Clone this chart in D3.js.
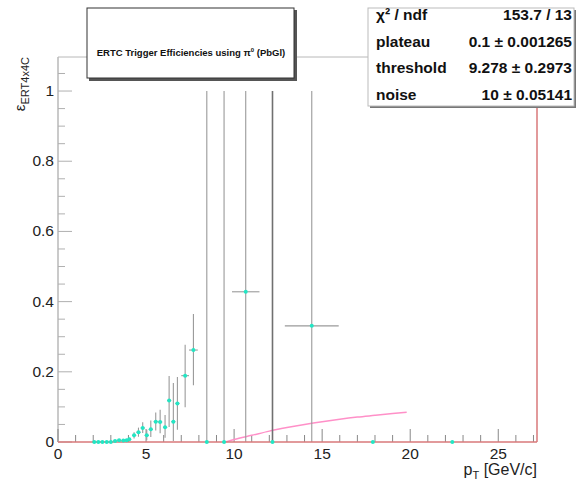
<!DOCTYPE html>
<html><head><meta charset="utf-8">
<script src="https://cdn.jsdelivr.net/npm/d3@7"></script>
<style>body{margin:0;background:#fff}svg{display:block}text{font-family:"Liberation Sans",Arial,sans-serif}</style>
</head><body><svg id="c" width="582" height="485"></svg>
<script>
// data points (pT, efficiency, x-half-width, y-error low, y-error high)
const ptVals   = [2.06,2.29,2.52,2.77,3.0,3.24,3.47,3.71,3.9,4.05,4.32,4.57,4.81,5.04,5.27,5.55,5.8,6.08,6.31,6.55,6.78,7.22,7.69,8.45,9.43,10.66,12.18,14.41,17.88,22.39];
const effVals  = [0,0,0,0,0,0.003,0.005,0.004,0.005,0.008,0.019,0.028,0.04,0.019,0.036,0.058,0.057,0.042,0.118,0.058,0.110,0.189,0.262,0,0,0.428,0,0.331,0,0];
const xErrVals = [0.12,0.12,0.12,0.12,0.12,0.12,0.12,0.12,0.1,0.1,0.12,0.12,0.12,0.12,0.12,0.12,0.12,0.12,0.12,0.12,0.12,0.22,0.25,0,0,0.78,0,1.53,0,0];
const yErrLo   = [0,0,0,0,0,0.002,0.003,0.003,0.003,0.004,0.009,0.013,0.014,0.014,0.022,0.025,0.032,0.03,0.075,0.055,0.075,0.09,0.1,0,0,0.428,0,0.331,0,0];
const yErrHi   = [0,0,0,0,0,0.002,0.003,0.003,0.003,0.004,0.009,0.013,0.016,0.016,0.025,0.026,0.035,0.035,0.07,0.11,0.075,0.088,0.103,1,1,0.572,1,0.669,0,0];
// fit curve samples
const fitX = [9.5,10,11,12,13,14,15,16,17,18,19,19.8];
const fitY = [0,0.007,0.019,0.031,0.041,0.050,0.058,0.065,0.071,0.076,0.081,0.085];
const xTicks = [0,5,10,15,20,25];
const yTicks = [0,0.2,0.4,0.6,0.8,1];
const statsRows = [["χ² / ndf","153.7 / 13"],["plateau","0.1 ± 0.001265"],["threshold","9.278 ± 0.2973"],["noise","10 ± 0.05141"]];

const svg = d3.select("#c");
const L=58,R=537,T=57,B=442;
const x = d3.scaleLinear().domain([0,27.2]).range([L,R]);
const y = d3.scaleLinear().domain([0,1.097]).range([B,T]);
const axisGrey="#b8b8b8", red="#d9787a";

// frame lines
svg.append("line").attr("x1",L).attr("x2",R).attr("y1",T).attr("y2",T).attr("stroke",axisGrey);
svg.append("line").attr("x1",L).attr("x2",L).attr("y1",T).attr("y2",B).attr("stroke",axisGrey).attr("stroke-width",1.5);

// x ticks (inward)
const xMinor = d3.range(0,27.01,1);
svg.append("g").selectAll("line").data(xMinor).join("line")
  .attr("x1",d=>x(d)).attr("x2",d=>x(d)).attr("y1",B)
  .attr("y2",d=>B-(d%5===0?13:7)).attr("stroke","#888");
// y ticks
const yMinor = d3.range(0,1.0901,0.05);
svg.append("g").selectAll("line").data(yMinor).join("line")
  .attr("x1",L).attr("x2",d=>L+(Math.abs(Math.round(d*5)-d*5)<1e-6?14:7))
  .attr("y1",d=>y(d)).attr("y2",d=>y(d)).attr("stroke","#b0b0b0");

// tick labels
svg.append("g").selectAll("text").data(xTicks).join("text")
  .attr("x",d=>x(d)).attr("y",459).attr("text-anchor","middle")
  .attr("font-size",15.5).attr("fill","#222").text(d=>d);
svg.append("g").selectAll("text").data(yTicks).join("text")
  .attr("x",54).attr("y",d=>y(d)+5).attr("text-anchor","end")
  .attr("font-size",15.5).attr("fill","#222").text(d=>d);

// axis titles
const xt = svg.append("text").attr("x",R).attr("y",475).attr("text-anchor","end").attr("font-size",16).attr("fill","#222");
xt.append("tspan").text("p");
xt.append("tspan").attr("font-size",11).attr("dy",4).text("T");
xt.append("tspan").attr("dy",-4).text(" [GeV/c]");
const yt = svg.append("text").attr("transform","translate(25,57) rotate(-90)").attr("text-anchor","end").attr("font-size",15).attr("fill","#222");
yt.append("tspan").text("ε");
yt.append("tspan").attr("font-size",11).attr("dy",4).text("ERT4x4C");

// fit curve
svg.append("path").datum(fitX.map((v,i)=>[v,fitY[i]]))
  .attr("d",d3.line().x(d=>x(d[0])).y(d=>y(d[1])).curve(d3.curveMonotoneX))
  .attr("fill","none").attr("stroke","#ff90c8").attr("stroke-width",1.5);

// error bars
const pts = ptVals.map((v,i)=>({x:v,y:effVals[i],ex:xErrVals[i],lo:yErrLo[i],hi:yErrHi[i]}));
const eb = svg.append("g").attr("stroke","#9a9a9a").attr("stroke-width",1.1);
pts.forEach(p=>{
  if(p.lo+p.hi>0){
    eb.append("line").attr("x1",x(p.x)).attr("x2",x(p.x)).attr("y1",y(p.y-p.lo)).attr("y2",y(p.y+p.hi))
      .attr("stroke",p.x===12.18?"#707070":null).attr("stroke-width",p.x===12.18?1.6:null);
  }
  if(p.ex>0){
    eb.append("line").attr("x1",x(p.x-p.ex)).attr("x2",x(p.x+p.ex)).attr("y1",y(p.y)).attr("y2",y(p.y));
  }
});

// bottom and right red lines
svg.append("line").attr("x1",L).attr("x2",R).attr("y1",B).attr("y2",B).attr("stroke",red).attr("stroke-width",1.5);
svg.append("line").attr("x1",R).attr("x2",R).attr("y1",T).attr("y2",B).attr("stroke",red).attr("stroke-width",1.5);

// markers
svg.append("g").selectAll("circle").data(pts).join("circle")
  .attr("cx",d=>x(d.x)).attr("cy",d=>y(d.y)).attr("r",2).attr("fill","#22e6c4");

// title box
svg.append("rect").attr("x",89).attr("y",10).attr("width",208).attr("height",71).attr("fill","#555");
svg.append("rect").attr("x",87).attr("y",8).attr("width",207).attr("height",70).attr("fill","#fff").attr("stroke","#333").attr("stroke-width",1);
const tt = svg.append("text").attr("x",191).attr("y",56).attr("text-anchor","middle").attr("font-size",9.5).attr("font-weight","bold").attr("fill","#111");
tt.append("tspan").text("ERTC Trigger Efficiencies using π");
tt.append("tspan").attr("font-size",6).attr("dy",-4).text("0");
tt.append("tspan").attr("dy",4).text(" (PbGl)");

// stats box
svg.append("rect").attr("x",370).attr("y",10).attr("width",206).attr("height",98).attr("fill","#777");
svg.append("rect").attr("x",368).attr("y",8).attr("width",206).attr("height",98).attr("fill","#fff").attr("stroke","#bbb");
const sg = svg.append("g");
statsRows.forEach((r,i)=>{
  const yy = 20 + i*26.7;
  sg.append("text").attr("x",376).attr("y",yy).attr("font-size",15.5).attr("font-weight","bold").attr("fill","#111").text(r[0]);
  sg.append("text").attr("x",572).attr("y",yy).attr("text-anchor","end").attr("font-size",15.5).attr("font-weight","bold").attr("fill","#111").text(r[1]);
});
</script></body></html>
